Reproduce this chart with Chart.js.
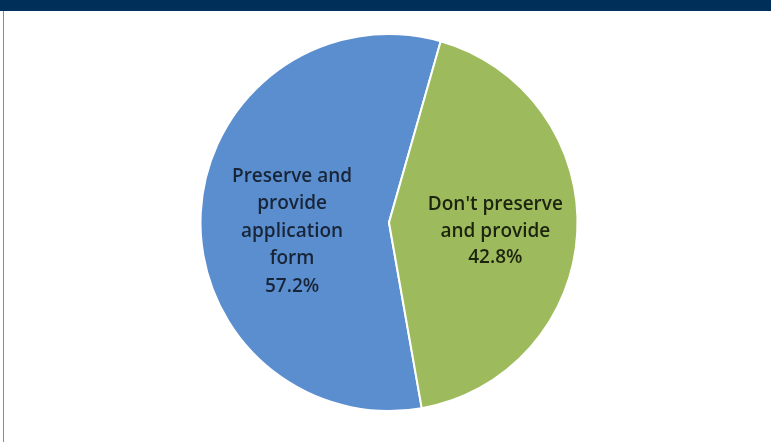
<!DOCTYPE html>
<html>
<head>
<meta charset="utf-8">
<script src="https://cdn.jsdelivr.net/npm/chart.js@4/dist/chart.umd.min.js"></script>
<style>
html,body{margin:0;padding:0;background:#fff;width:771px;height:442px;overflow:hidden;}
#hdr{position:absolute;left:0;top:0;width:771px;height:11px;background:#00305a;}
#bl{position:absolute;left:3px;top:11px;width:1px;height:431px;background:#8a8a8a;}
#wrap{position:absolute;left:0;top:0;width:771px;height:442px;}
</style>
</head>
<body>
<div id="wrap"><canvas id="c" width="771" height="442"></canvas></div>
<div id="hdr"></div>
<div id="bl"></div>
<script>
const categories = ["Preserve and provide application form", "Don't preserve and provide"];
const labelLines = [["Preserve and", "provide", "application", "form"], ["Don't preserve", "and provide"]];
const values = [57.2, 42.8];
const colors = ["#5b8ecf", "#9dbb5c"];
const textColors = ["#182538", "#1c2410"];

const labelPlugin = {
  id: 'sliceLabels',
  afterDatasetsDraw(chart) {
    const ctx = chart.ctx;
    const meta = chart.getDatasetMeta(0);
    const kx = [1.03, 1.13];
    const lhs = [27.5, 26.5];
    ctx.save();
    ctx.font = '600 19px "Open Sans", Lato, sans-serif';
    ctx.textAlign = 'center';
    ctx.textBaseline = 'middle';
    meta.data.forEach((arc, i) => {
      const p = arc.tooltipPosition();
      const cx = arc.x, cy = arc.y;
      const x = cx + (p.x - cx) * kx[i];
      const y = cy + 9;
      const lines = labelLines[i].concat([values[i].toFixed(1) + '%']);
      const lh = lhs[i];
      const y0 = y - (lines.length - 1) * lh / 2;
      ctx.fillStyle = textColors[i];
      lines.forEach((t, k) => ctx.fillText(t, x, y0 + k * lh));
    });
    ctx.restore();
  }
};

new Chart(document.getElementById('c'), {
  type: 'pie',
  data: {
    labels: categories,
    datasets: [{
      data: values,
      backgroundColor: colors,
      borderColor: '#ffffff',
      borderWidth: 2
    }]
  },
  options: {
    responsive: false,
    animation: false,
    rotation: 170,
    layout: { padding: { top: 33, bottom: 30, left: 7, right: 0 } },
    plugins: { legend: { display: false }, tooltip: { enabled: false } }
  },
  plugins: [labelPlugin]
});
</script>
</body>
</html>
